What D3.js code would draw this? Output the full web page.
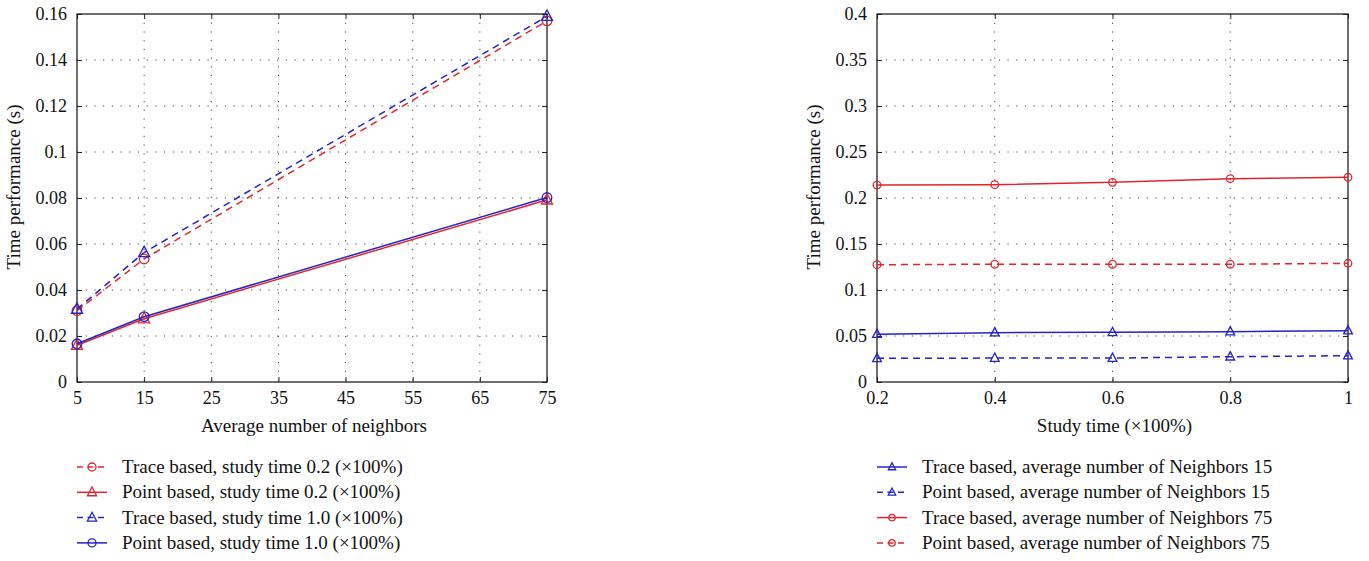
<!DOCTYPE html>
<html><head><meta charset="utf-8">
<script src="https://cdn.jsdelivr.net/npm/d3@7"></script>
<style>body{margin:0;background:#fff}svg{display:block}text{font-family:"Liberation Serif","DejaVu Serif",serif;fill:#111}</style>
</head><body><svg id="c" width="1369" height="561"></svg>
<script>
// Left chart data
const neighbors = [5, 15, 75];
const traceStudy02 = [0.031, 0.0535, 0.157];
const pointStudy02 = [0.016, 0.0275, 0.0792];
const traceStudy10 = [0.0317, 0.0563, 0.159];
const pointStudy10 = [0.0166, 0.0284, 0.0802];
const leftXTicks = [5, 15, 25, 35, 45, 55, 65, 75];
const leftYTicks = [0, 0.02, 0.04, 0.06, 0.08, 0.1, 0.12, 0.14, 0.16];
const leftLabels = ["Trace based, study time 0.2 (\u00d7100%)", "Point based, study time 0.2 (\u00d7100%)", "Trace based, study time 1.0 (\u00d7100%)", "Point based, study time 1.0 (\u00d7100%)"];
// Right chart data
const studyTime = [0.2, 0.4, 0.6, 0.8, 1.0];
const traceNb15 = [0.052, 0.0536, 0.054, 0.0547, 0.0558];
const pointNb15 = [0.0257, 0.026, 0.026, 0.0275, 0.0286];
const traceNb75 = [0.214, 0.2145, 0.217, 0.221, 0.2225];
const pointNb75 = [0.1275, 0.128, 0.128, 0.128, 0.129];
const rightXTicks = [0.2, 0.4, 0.6, 0.8, 1];
const rightYTicks = [0, 0.05, 0.1, 0.15, 0.2, 0.25, 0.3, 0.35, 0.4];
const rightLabels = ["Trace based, average number of Neighbors 15", "Point based, average number of Neighbors 15", "Trace based, average number of Neighbors 75", "Point based, average number of Neighbors 75"];

const RED = "#e0262c", BLUE = "#2323c8";
const svg = d3.select("#c");

function panel(cfg) {
  const g = svg.append("g");
  const x = d3.scaleLinear().domain(cfg.xDomain).range([cfg.left, cfg.right]);
  const y = d3.scaleLinear().domain(cfg.yDomain).range([cfg.bottom, cfg.top]);
  // grid
  g.selectAll(".gx").data(cfg.xTicks.slice(1, -1)).enter().append("line")
    .attr("x1", d => x(d)).attr("x2", d => x(d)).attr("y1", cfg.top).attr("y2", cfg.bottom)
    .attr("stroke", "#444").attr("stroke-width", 1).attr("stroke-dasharray", "1.2,7.5");
  g.selectAll(".gy").data(cfg.yTicks.slice(1, -1)).enter().append("line")
    .attr("y1", d => y(d)).attr("y2", d => y(d)).attr("x1", cfg.left).attr("x2", cfg.right)
    .attr("stroke", "#444").attr("stroke-width", 1).attr("stroke-dasharray", "1.2,7.5");
  // axes with inward ticks
  g.append("g").attr("transform", `translate(0,${cfg.bottom})`)
    .call(d3.axisBottom(x).tickValues(cfg.xTicks).tickSizeInner(-5).tickSizeOuter(0).tickPadding(9).tickFormat(cfg.xfmt))
    .call(a => a.select(".domain").remove());
  g.append("g").attr("transform", `translate(${cfg.left},0)`)
    .call(d3.axisLeft(y).tickValues(cfg.yTicks).tickSizeInner(-5).tickSizeOuter(0).tickPadding(10).tickFormat(cfg.fmt))
    .call(a => a.select(".domain").remove());
  g.append("g").attr("transform", `translate(0,${cfg.top})`)
    .call(d3.axisTop(x).tickValues(cfg.xTicks).tickSizeInner(-5).tickSizeOuter(0).tickFormat(""))
    .call(a => a.select(".domain").remove());
  g.append("g").attr("transform", `translate(${cfg.right},0)`)
    .call(d3.axisRight(y).tickValues(cfg.yTicks).tickSizeInner(-5).tickSizeOuter(0).tickFormat(""))
    .call(a => a.select(".domain").remove());
  g.selectAll(".tick line").attr("stroke", "#222");
  g.selectAll(".tick text").style("font-size", "18px").style("font-family", '"Liberation Serif",serif').attr("fill", "#111");
  g.append("rect").attr("x", cfg.left).attr("y", cfg.top).attr("width", cfg.right - cfg.left).attr("height", cfg.bottom - cfg.top)
    .attr("fill", "none").attr("stroke", "#222").attr("stroke-width", 1.3);
  // series
  const line = d3.line().x((d, i) => x(cfg.xs[i])).y(d => y(d));
  cfg.series.forEach(s => {
    g.append("path").datum(s.values).attr("d", line).attr("fill", "none").attr("stroke", s.color)
      .attr("stroke-width", 1.5).attr("stroke-dasharray", s.dash ? "7,5" : null);
    s.values.forEach((v, i) => marker(g, x(cfg.xs[i]), y(v), s.shape, s.color, cfg.msize));
  });
  // labels
  svg.append("text").attr("x", (cfg.left + cfg.right) / 2 + 2).attr("y", cfg.bottom + 50).attr("text-anchor", "middle")
    .style("font-size", "19px").text(cfg.xTitle);
  svg.append("text").attr("transform", `translate(${cfg.left - 57},${(cfg.top + cfg.bottom) / 2 - 11}) rotate(-90)`)
    .attr("text-anchor", "middle").style("font-size", "19px").text(cfg.yTitle);
  // legend
  cfg.series.forEach((s, i) => {
    const ly = cfg.legendTop + i * 25.3;
    const lx = cfg.left;
    g.append("line").attr("x1", lx).attr("x2", lx + 30).attr("y1", ly).attr("y2", ly)
      .attr("stroke", s.color).attr("stroke-width", 1.5).attr("stroke-dasharray", s.dash ? "6,4.5" : null);
    marker(g, lx + 15, ly, s.shape, s.color, cfg.lsize);
    svg.append("text").attr("x", lx + 45).attr("y", ly + 6).style("font-size", "19px").text(s.label);
  });
}

function marker(g, cx, cy, shape, color, r) {
  if (shape === "circle") {
    g.append("circle").attr("cx", cx).attr("cy", cy).attr("r", r).attr("fill", "none").attr("stroke", color).attr("stroke-width", 1.3);
  } else {
    const h = r * 1.15;
    g.append("path").attr("d", `M${cx},${cy - h * 1.15}L${cx + h},${cy + h * 0.75}L${cx - h},${cy + h * 0.75}Z`)
      .attr("fill", "none").attr("stroke", color).attr("stroke-width", 1.3);
  }
}

panel({
  left: 77, right: 547, top: 14, bottom: 382,
  xDomain: [5, 75], yDomain: [0, 0.16], xs: neighbors,
  xTicks: leftXTicks, yTicks: leftYTicks,
  fmt: d => d === 0 ? "0" : String(+d.toFixed(2)), xfmt: d => d,
  xTitle: "Average number of neighbors", yTitle: "Time performance (s)",
  msize: 4.8, lsize: 4, legendTop: 467,
  series: [
    {values: traceStudy02, color: RED, dash: true, shape: "circle", label: leftLabels[0]},
    {values: pointStudy02, color: RED, dash: false, shape: "tri", label: leftLabels[1]},
    {values: traceStudy10, color: BLUE, dash: true, shape: "tri", label: leftLabels[2]},
    {values: pointStudy10, color: BLUE, dash: false, shape: "circle", label: leftLabels[3]}
  ]
});
panel({
  left: 877, right: 1348, top: 14, bottom: 382,
  xDomain: [0.2, 1], yDomain: [0, 0.4], xs: studyTime,
  xTicks: rightXTicks, yTicks: rightYTicks,
  fmt: d => d === 0 ? "0" : String(+d.toFixed(2)), xfmt: d => String(+d.toFixed(1)),
  xTitle: "Study time (\u00d7100%)", yTitle: "Time performance (s)",
  msize: 3.8, lsize: 3.2, legendTop: 467,
  series: [
    {values: traceNb15, color: BLUE, dash: false, shape: "tri", label: rightLabels[0]},
    {values: pointNb15, color: BLUE, dash: true, shape: "tri", label: rightLabels[1]},
    {values: traceNb75, color: RED, dash: false, shape: "circle", label: rightLabels[2]},
    {values: pointNb75, color: RED, dash: true, shape: "circle", label: rightLabels[3]}
  ]
});
</script></body></html>
